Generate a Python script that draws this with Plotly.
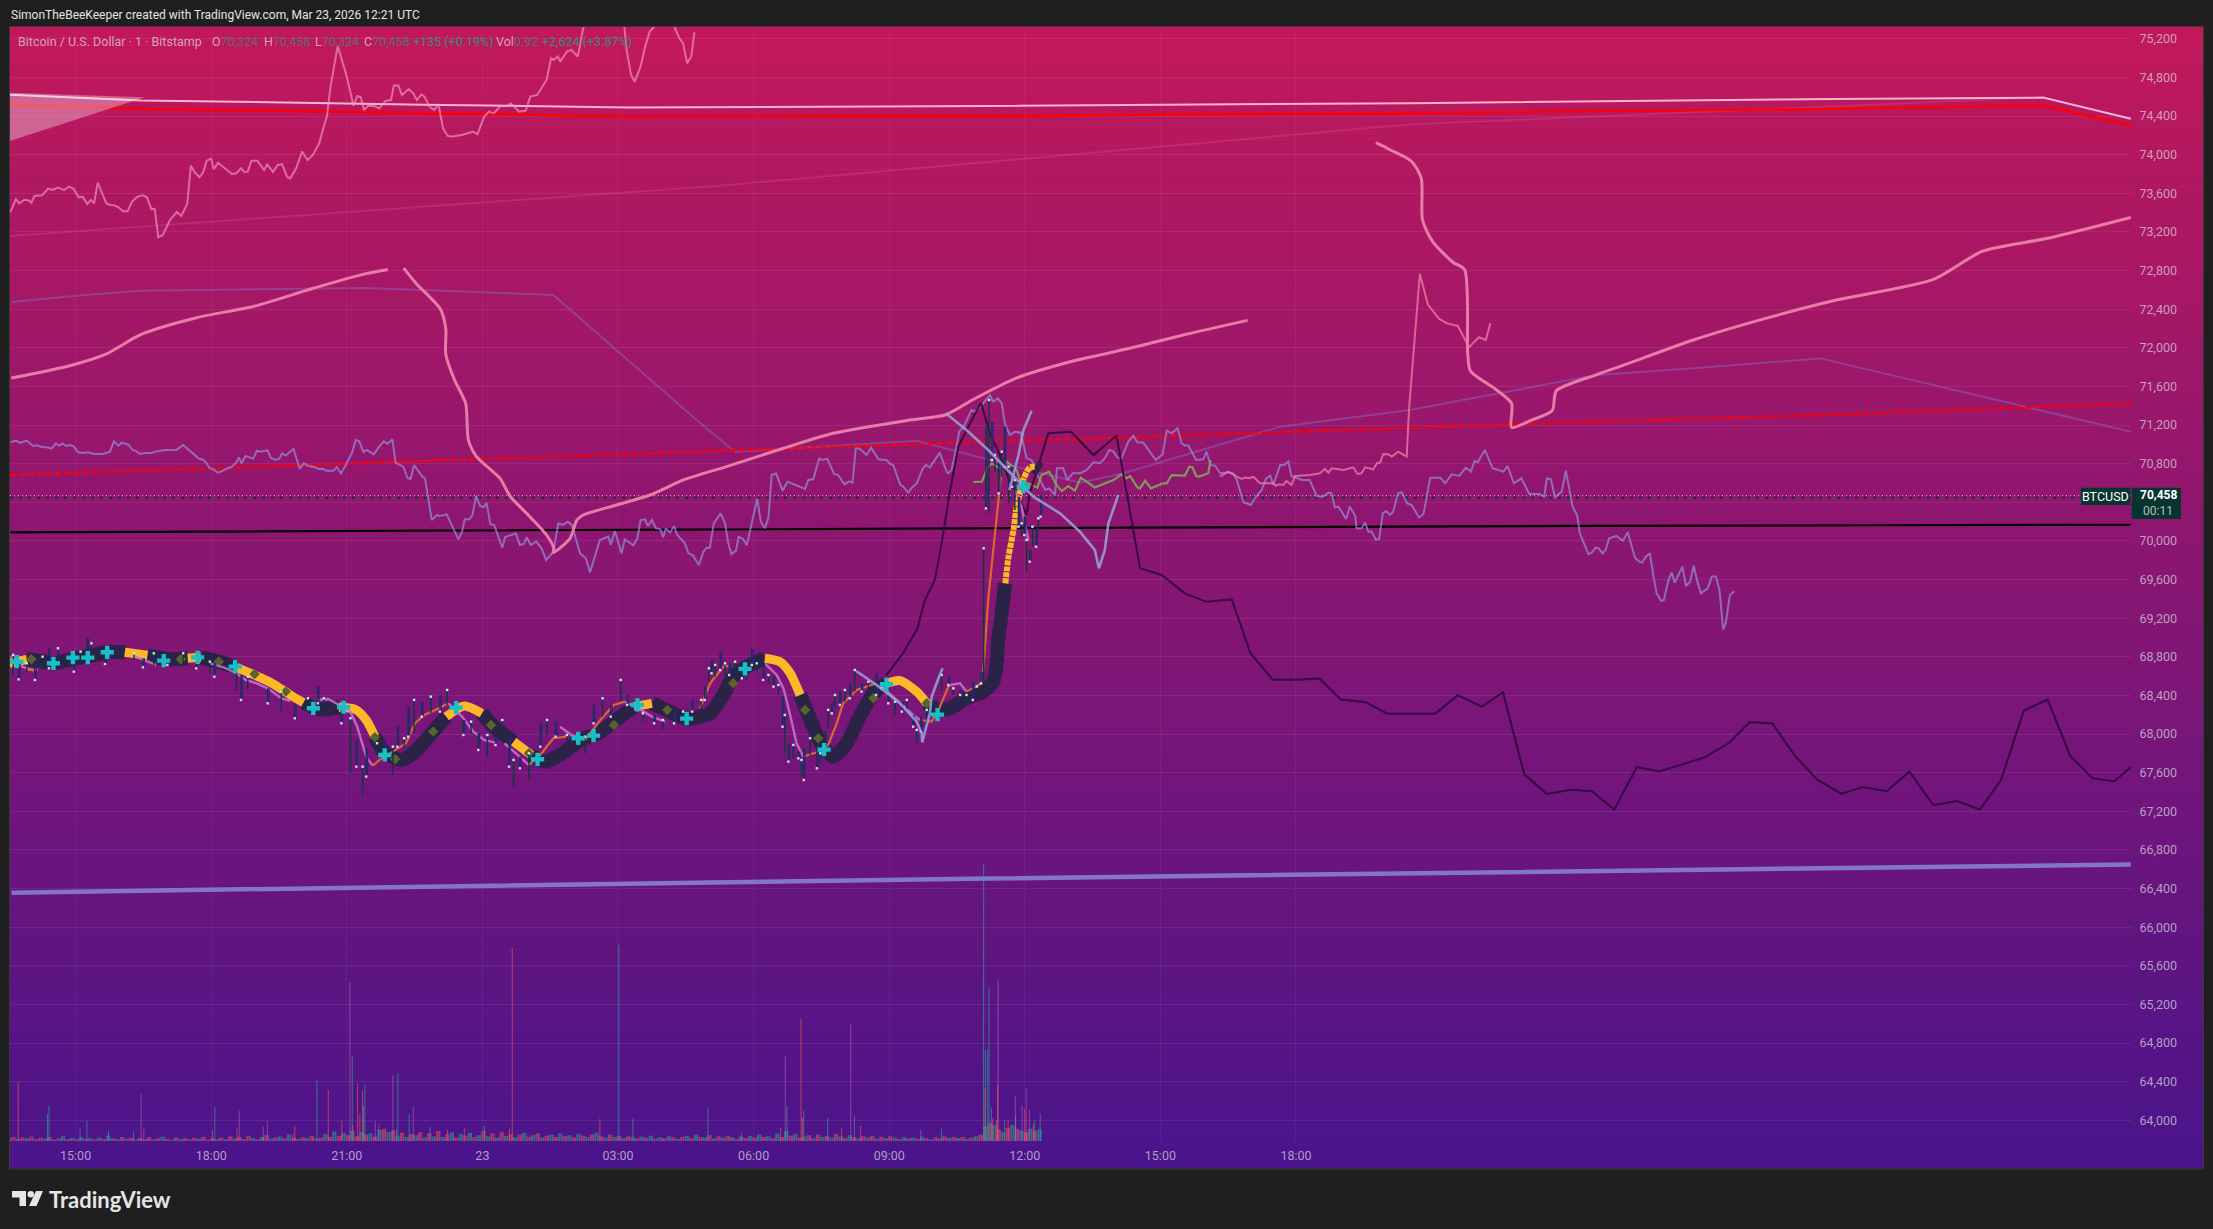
import pandas as pd
import plotly.graph_objects as go

# ---------------- values (hours since 2026-03-22 00:00, USD) ----------------
tick_hours = [15, 18, 21, 24, 27, 30, 33, 36, 39, 42]
tick_labels = ["15:00", "18:00", "21:00", "23", "03:00", "06:00", "09:00", "12:00", "15:00", "18:00"]
price_ticks = [64000,64400,64800,65200,65600,66000,66400,66800,67200,67600,68000,68400,68800,69200,69600,70000,70400,70800,71200,71600,72000,72400,72800,73200,73600,74000,74400,74800,75200]
price_labels = ["64,000","64,400","64,800","65,200","65,600","66,000","66,400","66,800","67,200","67,600","68,000","68,400","68,800","69,200","69,600","70,000","","70,800","71,200","71,600","72,000","72,400","72,800","73,200","73,600","74,000","74,400","74,800","75,200"]

overlay_h = [13.55,13.68,13.75,13.86,13.94,14.02,14.09,14.26,14.39,14.50,14.60,14.75,14.85,14.95,15.07,15.16,15.26,15.34,15.41,15.49,15.58,15.68,15.77,15.85,15.95,16.05,16.15,16.25,16.37,16.48,16.58,16.68,16.75,16.83,16.93,17.09,17.24,17.34,17.47,17.55,17.64,17.74,17.82,17.90,18.00,18.06,18.15,18.36,18.46,18.56,18.66,18.73,18.81,18.89,19.02,19.17,19.24,19.37,19.47,19.57,19.68,19.75,19.88,20.01,20.13,20.25,20.39,20.49,20.56,20.64,20.80,21.00,21.15,21.23,21.31,21.38,21.47,21.61,21.72,21.86,21.98,22.04,22.14,22.22,22.37,22.47,22.55,22.65,22.72,22.83,22.93,23.03,23.13,23.23,23.33,23.54,23.69,23.79,23.89,24.04,24.15,24.25,24.40,24.55,24.63,24.81,24.96,25.06,25.21,25.42,25.52,25.57,25.67,25.72,25.87,25.97,26.11,26.23,26.43,26.84,27.09,27.14,27.19,27.29,27.37,27.50,27.60,27.70,27.80,28.00,28.21,28.26,28.36,28.44,28.53,28.62,28.69]
overlay_p = [73401,73539,73497,73532,73532,73504,73573,73580,73649,73635,73660,73635,73670,73649,73559,73566,73490,73532,73497,73711,73608,73497,73480,73477,73456,73414,73414,73515,73566,73580,73559,73435,73442,73145,73169,73325,73407,73366,73490,73887,73815,73767,73815,73939,73960,73849,73918,73842,73801,73808,73860,73822,73825,73939,73939,73842,73898,73822,73894,73901,73773,73756,73860,74032,73946,73998,74119,74291,74395,74705,75127,74809,74505,74609,74595,74464,74505,74505,74481,74560,74567,74716,74716,74619,74681,74636,74567,74626,74602,74498,74464,74516,74274,74195,74188,74205,74222,74239,74212,74395,74447,74429,74505,74505,74533,74447,74457,74602,74619,74774,74999,74982,75016,74964,75068,75085,75016,75310,75500,75600,75400,75327,75085,74826,74757,74913,75120,75275,75327,75500,75400,75310,75206,75154,74947,75016,75268]

series_h = [13.56,13.68,13.77,13.92,14.06,14.15,14.25,14.36,14.47,14.56,14.64,14.71,14.80,14.88,14.96,15.06,15.17,15.28,15.39,15.61,15.76,15.85,15.95,16.02,16.17,16.26,16.35,16.42,16.57,16.68,16.79,16.98,17.24,17.38,17.72,17.83,17.90,17.96,18.05,18.14,18.23,18.34,18.45,18.55,18.61,18.67,18.76,18.93,19.01,19.08,19.25,19.32,19.41,19.51,19.57,19.65,19.82,19.96,20.05,20.15,20.30,20.37,20.47,20.54,20.70,20.78,20.87,20.96,21.11,21.20,21.27,21.37,21.44,21.55,21.60,21.70,21.82,21.90,22.01,22.08,22.25,22.34,22.41,22.49,22.66,22.73,22.88,22.99,23.06,23.21,23.47,23.55,23.61,23.71,23.78,23.86,23.95,24.03,24.09,24.18,24.26,24.44,24.50,24.74,24.83,
            24.92,24.98,25.07,25.19,25.31,25.41,25.57,25.68,25.78,25.89,25.98,26.05,26.16,26.29,26.38,26.60,26.79,26.84,26.93,27.08,27.15,27.34,27.43,27.50,27.60,27.66,27.75,27.84,27.94,28.00,28.06,28.15,28.24,28.31,28.48,28.56,28.65,28.79,28.89,28.96,29.03,29.12,29.27,29.37,29.44,29.51,29.61,29.67,29.77,29.85,30.08,30.16,30.25,30.33,30.40,30.50,30.64,30.75,31.14,31.21,31.32,31.45,31.53,31.63,31.78,31.87,32.01,32.11,32.19,32.26,32.35,32.50,32.60,32.76,32.94,33.02,33.09,33.24,33.31,33.42,33.50,33.61,33.74,33.81,33.90,34.12,34.27,34.31,34.38,34.46,34.55,34.65,
            34.82,34.90,35.05,35.23,35.30,35.41,35.49,35.56,35.67,35.78,35.91,36.04,36.15,36.30,36.45,36.54,36.67,36.71,36.85,
            36.94,37.06,37.22,37.37,37.52,37.66,37.77,37.87,37.96,38.05,38.14,38.29,38.40,38.49,38.62,38.73,38.90,39.05,39.14,39.25,39.38,39.47,39.54,39.62,39.79,39.95,40.02,40.11,40.21,40.32,40.50,40.61,40.69,40.84,41.00,41.09,41.24,41.34,41.43,41.50,41.65,41.74,41.83,41.90,42.13,42.30,42.46,42.60,42.72,42.79,42.86,42.94,43.11,43.19,43.31,43.34,43.45,43.53,43.60,43.67,43.77,43.84,43.92,43.99,44.08,44.15,44.26,44.34,44.46,44.56,44.72,44.82,44.97,45.19,45.30,45.45,45.61,45.76,45.87,45.95,46.02,46.18,46.35,46.59,46.68,46.82,46.99,47.16,47.40,47.49,47.55,47.64,47.73,47.88,47.97,48.12,48.17,48.22,48.28,48.47,48.54,48.63,48.70,48.78,48.85,48.93,49.09,49.23,49.34,49.50,49.60,49.66,49.74,49.83,49.91,49.98,50.08,50.14,50.24,50.31,50.38,50.55,50.63,50.72,50.80,50.88,50.96,51.11,51.20,51.29,51.37,51.45,51.51,51.60,51.70]
series_p = [71022,71039,71015,71039,70984,70991,70973,70970,70956,71008,70987,71011,70984,70994,70977,70918,70911,70918,70901,70901,70925,71032,70987,71018,70998,70942,70928,70904,70911,70911,70928,70942,70946,70994,70856,70839,70804,70756,70742,70708,70721,70749,70766,70811,70866,70804,70880,70853,70935,70925,70939,70859,70842,70853,70908,70884,70956,70746,70804,70777,70763,70746,70749,70728,70728,70766,70701,70770,70908,71046,71036,70922,70942,70908,70897,70966,71032,71008,71053,70811,70770,70656,70639,70787,70673,70649,70217,70269,70259,70276,70017,70093,70224,70224,70269,70466,70362,70349,70397,70172,70166,69931,70038,70079,69958,
            69969,70038,69958,69993,69924,69803,69889,70183,70166,70200,70166,70045,69872,69820,69675,70010,70045,69958,70103,69872,70017,69955,70028,70217,70224,70155,70217,70131,70121,70038,70131,70086,70155,70062,69976,69872,69855,69751,69889,69931,69931,70183,70286,70183,69976,69865,69900,70045,70021,69955,70438,70200,70131,70245,70683,70701,70521,70614,70538,70632,70639,70853,70839,70853,70694,70683,70587,70618,70604,70960,70956,70891,70966,70846,70839,70797,70787,70587,70563,70500,70552,70597,70746,70787,70763,70915,70718,70701,70735,70908,71132,71184,
            71356,71339,71408,71512,71443,71477,71425,71218,71097,71132,71122,70856,70839,70666,70528,70545,70476,70752,70752,
            70632,70701,70701,70736,70815,70805,70856,70943,70926,70863,70856,71029,71091,71022,71019,70943,70839,70898,71143,71115,71167,71012,70988,70988,70839,70846,70925,70787,70781,70701,70711,70701,70632,70401,70373,70442,70529,70649,70677,70580,70787,70787,70822,70673,70632,70632,70466,70459,70501,70494,70346,70356,70228,70356,70259,70132,70132,70190,70097,70097,70011,70021,70287,70311,70270,70304,70494,70504,70390,70373,70242,70277,70656,70656,70598,70691,70674,70760,70718,70829,70815,70943,70753,70718,70777,70598,70649,70487,70487,70453,70649,70639,70453,70511,70729,70356,70304,70269,70079,69865,69879,69931,69924,69872,69907,70028,70052,70003,70090,69827,69786,69776,69838,69872,69631,69458,69379,69389,69596,69672,69569,69734,69534,69579,69745,69579,69458,69510,69631,69631,69493,69085,69154,69441,69479]

dark_h = [32.93,33.31,33.62,33.79,34.01,34.16,34.35,34.53,34.79,35.03,35.23,35.45,35.64,35.82,36.04,36.11,36.52,37.02,37.52,38.03,38.55,39.03,39.54,40.02,40.58,40.99,41.49,42.05,42.52,42.99,43.55,44.02,45.08,45.58,46.11,46.58,47.05,47.55,48.08,48.55,49.04,49.54,50.04,51.04,51.57,52.04,52.54,53.04,53.54,54.07,54.54,55.07,55.57,56.10,56.63,57.13,57.60,58.10,58.63,59.13,59.63,60.10,60.47]
dark_p = [68606,68840,69088,69389,69596,69975,70528,70977,71218,71432,71115,70890,70649,70493,70269,70493,71115,71132,70890,71091,69717,69648,69458,69370,69395,68840,68562,68562,68577,68358,68329,68212,68212,68402,68285,68431,67584,67380,67424,67409,67219,67657,67613,67759,67905,68124,68110,67774,67526,67380,67453,67409,67613,67263,67307,67219,67526,68241,68358,67774,67541,67511,67657]

ma_a_h = [13.58,14.89,15.67,16.45,17.70,18.95,20.19,21.29,21.91]
ma_a_p = [71687,71818,71935,72139,72315,72431,72607,72753,72811]
ma_b_h = [22.26,22.54,23.07,23.19,23.19,23.38,23.63,23.69,23.87,24.39,24.61,25.05,25.42,25.58,25.57,25.94,26.09,26.23,26.97,27.71,28.45,29.40,30.66,31.76,33.46,34.25,34.87,35.81,37.05,38.30,39.55,40.93]
ma_b_p = [72826,72665,72402,72198,71935,71672,71424,71046,70873,70649,70466,70252,70062,69924,69879,70028,70217,70269,70373,70476,70632,70770,70960,71115,71253,71307,71468,71687,71862,71993,72139,72285]
ma_c_h = [43.77,44.08,44.55,44.77,44.80,45.02,45.48,45.73,45.80,45.86,46.42,46.77,46.77,47.20,47.67,47.76,48.61,49.23,50.79,52.35,53.91,56.10,57.19,58.60,60.47]
ma_c_p = [74125,74052,73935,73760,73322,73103,72884,72811,71935,71760,71570,71424,71176,71249,71351,71555,71716,71818,72081,72300,72490,72709,73001,73132,73351]

spike_h = [40.32,40.50,40.69,40.80,40.87,40.95,41.06,41.20,41.50,41.56,41.61,41.72,41.79,41.90,41.98,42.31,42.53,42.64,42.72,42.79,43.05,43.27,43.36,43.45,43.53,43.71,43.79,43.86,43.93,44.04,44.12,44.26,44.45,44.50,44.74,44.92,45.17,45.33,45.58,45.83,46.05,46.20,46.30]
spike_p = [70667,70718,70667,70642,70656,70649,70663,70598,70598,70570,70587,70580,70622,70580,70673,70684,70701,70746,70708,70753,70736,70763,70694,70701,70763,70743,70805,70812,70901,70898,70874,70925,70874,71357,72767,72446,72300,72256,72227,72008,72110,72081,72256]

green_h = [34.86,35.05,35.17,35.27,35.45,35.61,35.82,35.91,36.08,36.28,36.37,36.54,36.70,36.82,36.96,37.11,37.24,37.55,37.96,38.14,38.25,38.33,38.49,38.55,38.66,38.79,39.06,39.14,39.25,39.54,39.64,39.71,39.79,39.86,40.06,40.11]
green_p = [70611,70614,70752,70804,70752,70821,70735,70604,70597,70552,70683,70718,70580,70517,70569,70521,70656,70555,70631,70690,70649,70673,70555,70545,70624,70545,70597,70597,70683,70677,70770,70763,70673,70667,70701,70839]

swing_a_h = [32.27,32.72,33.24,33.61,33.72,33.73,33.90,33.94,34.09,34.18]
swing_a_p = [68654,68509,68319,68129,68008,67915,68215,68388,68578,68681]
swing_b_h = [34.25,34.71,35.19,35.75,36.19,36.78,37.22,37.55,37.64,37.77,37.85,38.07]
swing_b_p = [71322,71149,70942,70666,70459,70286,70096,69906,69717,69906,70183,70476]
swing_c_h = [35.66,35.75,35.86,35.97,36.15]
swing_c_p = [70528,70683,70890,71149,71349]

faint_h = [13.58,15.20,16.45,18.63,21.44,25.57,28.74,29.59,32.21,33.61,35.08,37.22,38.18,41.65,44.52,48.61,50.79,53.60,60.47]
faint_p = [72475,72548,72592,72607,72621,72548,71253,70922,70994,71039,70856,70604,70701,71184,71357,71716,71789,71891,71132]
rise_h = [13.55,29.26,44.55,58.30]
rise_p = [73159,73680,74315,74590]

long_h = [13.55,16.45,22.69,27.22,35.18,44.55,53.91,58.53,60.47]
pale_p = [74621,74563,74519,74490,74505,74534,74578,74592,74373]
red_p = [74519,74475,74432,74395,74402,74432,74475,74512,74300]
dash_h = [13.56,24.39,35.89,36.78,48.28,53.91,60.47]
dash_p = [70683,70856,71039,71046,71233,71307,71424]
black_h = [13.56,24.83,36.78,48.28,60.47]
black_p = [70090,70110,70135,70156,70168]
base_h = [13.58,35.18,60.47]
base_p = [66358,66504,66650]
wedge_h = [13.55,13.55,16.53,13.55]
wedge_p = [74643,74143,74595,74643]

band_h = [13.54,13.92,14.31,14.51,14.91,15.30,15.70,16.09,16.59,17.08,17.48,17.77,18.17,18.56,18.96,19.35,19.75,20.04,20.39,20.83,21.18,21.43,21.62,21.82,22.22,22.51,22.91,23.20,23.60,23.99,24.29,24.69,25.08,25.38,25.77,26.17,26.56,26.96,27.35,27.75,28.14,28.54,28.81,29.04,29.33,29.55,29.85,30.25,30.58,30.81,31.03,31.17,31.32,31.51,31.76,32.06,32.35,32.65,32.94,33.24,33.61,33.83,34.05,34.35,34.71,35.08,35.30,35.38,35.41,35.47,35.54,35.57,35.64,35.75,35.82,35.91,35.98,36.11,36.22,36.34]
band_p = [68733,68775,68750,68733,68775,68809,68847,68847,68816,68775,68785,68795,68750,68692,68612,68526,68405,68326,68257,68278,68257,68146,67974,67818,67732,67818,68026,68181,68291,68215,68060,67922,67784,67715,67801,67939,68008,68146,68284,68319,68233,68153,68181,68215,68405,68595,68699,68785,68750,68630,68405,68250,68077,67887,67767,67905,68181,68423,68526,68554,68440,68319,68250,68267,68371,68440,68543,68733,68975,69182,69458,69561,69837,70114,70355,70528,70649,70763,70769,70735]
dark_runs = [(1,7),(8,10),(11,13),(17,19),(22,27),(29,31),(32,38),(39,47),(50,58),(61,71),(78,79)]
gold_runs = [(0,1),(7,8),(10,11),(13,17),(19,22),(27,29),(31,32),(38,39),(47,50),(58,61)]
gold_tail = (71,78)

fall_segments = [
    ([13.57,13.82,14.07],[68809,68699,68657]),
    ([16.29,16.59,16.78],[68809,68750,68716]),
    ([17.97,18.27,18.56,18.76,19.01,19.25,19.55,19.75],[68733,68692,68630,68561,68526,68474,68371,68343]),
    ([20.34,20.59,20.83,21.08,21.23,21.43,21.57],[68353,68364,68302,68233,68077,67767,67673]),
    ([23.25,23.55,23.80,24.04,24.29],[68319,68181,68026,67939,67912]),
    ([24.49,24.83,25.03],[67905,67767,67680]),
    ([25.72,25.97,26.27],[68077,67991,67939]),
    ([27.15,27.45,27.75,28.04],[68336,68267,68181,68129]),
    ([30.25,30.51,30.66,30.80,30.95,31.10],[68733,68612,68474,68215,67905,67767]),
    ([32.80,33.17,33.53,33.68],[68509,68354,68198,68146]),
    ([34.35,34.57,34.71],[68509,68526,68440]),
    ([35.78,35.93,36.0,36.08],[70528,70355,70183,70010]),
]
rise_segments = [
    ([13.90,14.17],[68664,68671]),
    ([21.57,21.77,22.02,22.31,22.51,22.71,22.96,23.25],[67673,67749,67818,67905,68112,68198,68250,68319]),
    ([25.03,25.28,25.57,25.87],[67680,67784,67957,67974]),
    ([26.27,26.61,26.91,27.15],[67939,68146,68302,68336]),
    ([28.81,29.04,29.33,29.48],[68267,68526,68699,68709]),
    ([31.10,31.43,31.65,31.84,31.98,32.28,32.72],[67767,67818,67887,68112,68319,68457,68526]),
    ([33.68,33.94,34.09,34.31,34.35],[68146,68129,68250,68492,68509]),
    ([34.71,35.05,35.10,35.17,35.19,35.41,35.49],[68440,68526,68768,69182,69389,70390,70735]),
]

cross_h = [13.70,14.51,14.94,15.27,15.70,16.95,17.70,18.53,20.26,20.93,21.84,23.42,25.22,26.12,26.46,27.43,28.52,29.81,31.56,32.94,34.07,35.97]
cross_p = [68750,68733,68792,68792,68847,68761,68795,68699,68267,68278,67784,68274,67739,67957,67984,68302,68160,68675,67839,68516,68202,70562]
olive_h = [14.02,17.33,18.17,18.96,19.65,21.62,22.07,22.91,24.19,25.03,26.91,28.09,29.55,31.14,31.43,32.65,33.83]
olive_p = [68775,68775,68750,68623,68440,67967,67739,68026,68095,67801,68095,68250,68526,68250,67956,68371,68319]

candle_h = [13.62,13.74,13.92,14.10,14.27,14.41,14.61,14.96,15.11,15.26,15.35,15.65,16.29,16.49,16.73,17.03,17.38,17.67,17.97,18.07,18.56,18.66,18.81,19.25,19.55,19.85,20.14,20.36,20.49,20.88,21.08,21.21,21.35,21.43,21.67,21.82,22.02,22.12,22.27,22.36,22.49,22.66,22.86,23.06,23.22,23.58,23.75,23.91,24.11,24.29,24.44,24.59,24.69,24.83,25.03,25.28,25.43,25.62,25.87,26.12,26.27,26.46,26.66,26.84,27.06,27.20,27.55,27.80,27.99,28.24,28.44,28.64,
            28.84,28.92,29.01,29.07,29.15,29.26,29.37,29.46,29.59,29.74,29.85,29.96,30.07,30.21,30.33,30.44,30.55,30.64,30.69,30.77,30.88,30.99,31.06,31.11,31.25,31.40,31.48,31.58,31.65,31.73,31.80,31.91,32.02,32.13,32.24,32.39,32.54,32.71,32.83,32.98,33.13,33.28,33.39,33.53,33.61,33.70,33.83,34.05,34.16,34.31,34.42,34.57,34.71,34.85,34.94,35.03,35.09,
            35.14,35.21,35.27,35.34,35.42,35.49,35.55,35.64,35.72,35.78,35.86,35.93,35.99,36.04,36.11,36.17,36.25,36.30,36.35]
candle_hi = [68820,68768,68733,68750,68802,68889,68889,68802,68854,68992,68940,68854,68837,68785,68837,68820,68837,68750,68750,68733,68699,68612,68595,68474,68440,68302,68371,68492,68371,68284,68164,67939,67663,67853,67905,67957,67870,68077,67957,68284,68354,68336,68388,68405,68457,68146,68129,68008,67991,67957,68146,67974,67732,67767,67801,68112,68146,68129,67991,68008,67974,68302,68371,68302,68561,68405,68215,68198,68146,68250,68233,68354,
             68354,68492,68681,68775,68716,68847,68733,68733,68750,68681,68664,68878,68733,68733,68612,68595,68509,68388,68198,67905,67887,67818,67732,67853,67957,67905,67801,68032,68250,68319,68405,68440,68457,68526,68664,68526,68543,68630,68474,68405,68336,68336,68354,68198,68043,68181,68250,68354,68612,68595,68474,68457,68405,68543,68492,68647,69924,
             71184,71460,71235,70890,70821,70925,71184,70769,70769,70631,70459,70183,70252,70010,69906,70148,70131,70234,70476]
candle_lo = [68612,68567,68647,68561,68664,68681,68750,68647,68750,68768,68820,68726,68768,68692,68716,68716,68733,68681,68630,68595,68457,68354,68457,68319,68233,68164,68215,68319,68284,68112,67594,67663,67370,67560,67801,67767,67577,67870,67853,67974,68008,68181,68215,68233,68302,67991,68008,67836,67767,67887,67991,67663,67456,67646,67542,67870,67991,67974,67922,67905,67801,68112,68181,68181,68354,68302,68129,68112,68050,68112,68146,68233,
             68250,68354,68543,68630,68595,68664,68595,68612,68612,68578,68561,68716,68647,68561,68526,68492,68405,68077,67801,67715,67749,67749,67560,67525,67767,67646,67698,67870,68077,68215,68284,68302,68336,68371,68440,68440,68388,68405,68405,68319,68198,68233,68215,68077,67905,68026,68077,68198,68440,68509,68405,68405,68319,68354,68440,68526,68526,
             70338,70286,70839,70718,70493,70666,70769,70390,70562,70321,70148,70045,70062,69682,69786,69941,69941,70114,70252]

vol_small = [.10,.14,.07,.12,.09,.15,.06,.11,.08,.13,
             .05,.09,.16,.07,.11,.06,.13,.08,.10,.05,
             .12,.07,.18,.09,.06,.14,.08,.11,.05,.10,
             .07,.13,.06,.09,.15,.08,.05,.12,.07,.10,
             .06,.11,.08,.14,.05,.09,.07,.12,.06,.16,
             .09,.13,.07,.18,.10,.06,.14,.20,.08,.12,
             .15,.09,.22,.11,.07,.13,.10,.17,.08,.12,
             .24,.14,.32,.18,.28,.20,.35,.16,.30,.22,
             .26,.15,.38,.42,.30,.36,.18,.28,.14,.24,
             .20,.30,.12,.26,.16,.34,.14,.22,.30,.12,
             .24,.18,.28,.14,.20,.34,.16,.26,.12,.30,
             .18,.24,.13,.22,.28,.15,.20,.26,.12,.18,
             .22,.14,.26,.16,.20,.12,.24,.18,.14,.22,
             .28,.16,.12,.22,.14,.18,.10,.16,.13,.09,
             .15,.11,.18,.08,.13,.10,.16,.12,.07,.14,
             .18,.10,.22,.14,.12,.20,.09,.16,.11,.18,
             .13,.08,.15,.10,.18,.12,.22,.14,.16,.10,
             .26,.14,.34,.18,.24,.12,.16,.20,.10,.22,
             .14,.18,.12,.24,.16,.10,.20,.13,.09,.16,
             .12,.18,.08,.14,.10,.16,.11,.07,.13,.09,
             .12,.08,.15,.10,.06,.13,.09,.16,.11,.14,
             .10,.14,.08,.12,.16,.22,.50,.62,.55,.40,
             .30,.45,.55,.42,.36,.30,.42,.35,.40]
vol_small_start = 13.55
vol_small_step = 0.1

vol_green_h = [14.41,14.38,15.10,15.25,15.73,16.28,18.08,20.34,21.12,21.37,21.40,22.13,22.10,22.38,22.84,24.04,27.02,27.33,28.99,30.74,31.11,31.64,32.23,34.16,35.09,35.13,35.18,35.21,35.26,35.55,35.80,36.22,36.34]
vol_green_v = [1.21,.93,.42,.68,.36,.31,1.16,2.06,2.91,1.18,1.93,2.31,.40,.91,.48,.53,6.68,.76,1.13,1.18,1.02,.79,.87,.41,9.42,3.10,3.13,5.21,1.13,.70,.87,.70,.93]
vol_red_h = [13.73,16.51,18.03,18.57,19.81,19.85,20.59,20.89,21.13,21.24,21.29,21.35,23.23,23.60,24.60,24.66,26.60,29.73,30.60,31.05,31.08,31.95,32.37,35.12,35.40,35.29,35.37,35.63,36.00,36.19]
vol_red_v = [2.01,.41,.36,.42,.25,.50,1.74,.68,.53,1.97,.93,1.72,.39,.43,.42,6.56,.76,.28,.45,4.17,.79,.45,.53,1.78,1.93,.76,.70,.72,1.10,.59]
vol_faint_h = [16.45,18.62,19.15,19.24,21.07,21.63,21.71,22.02,22.47,30.70,32.15,33.70,35.41,35.79,35.94,36.03,36.10]
vol_faint_v = [1.59,1.02,.50,.68,5.40,.68,.57,2.23,1.18,2.88,3.97,.39,5.48,1.55,1.21,1.78,1.07]

# ---------------- geometry of the frame (image pixels) ----------------
W, H = 2213, 1229
L, R, T, B = 10, 2131, 27, 1141
X_RANGE_H = (13.549, 60.474)
Y_RANGE = (63786, 75323)
VOL_MAX = 37.9
FONT = "Roboto"
AXIS_TEXT = "rgba(216,214,222,0.72)"


def px(x):
    return (x - L) / (R - L)


def py(y):
    return (B - y) / (B - T)


def when(hours):
    base = pd.Timestamp("2026-03-22")
    out = []
    for h in hours:
        out.append(None if h is None else (base + pd.Timedelta(hours=float(h))).strftime("%Y-%m-%d %H:%M:%S"))
    return out


def runs(xs, ys, spans):
    ox, oy = [], []
    for a, b in spans:
        ox += list(xs[a:b + 1]) + [None]
        oy += list(ys[a:b + 1]) + [None]
    return ox, oy


def joined(segments):
    ox, oy = [], []
    for a, b in segments:
        ox += list(a) + [None]
        oy += list(b) + [None]
    return ox, oy


def add_line(fig, hours, prices, color, width, dash=None, shape=None, **kw):
    line = dict(color=color, width=width, dash=dash, shape=shape)
    if shape == "spline":
        line["smoothing"] = 0.7
    fig.add_trace(go.Scatter(x=when(hours), y=prices, mode="lines", hoverinfo="skip", showlegend=False,
                             connectgaps=False, line=line, **kw))


def add_bars(fig, hours, values, color, width_ms):
    fig.add_trace(go.Bar(x=when(hours), y=values, width=width_ms, yaxis="y2", hoverinfo="skip", showlegend=False,
                         marker=dict(color=color, line=dict(width=0))))


fig = go.Figure()

GREEN_BAR, RED_BAR = "rgba(38,166,154,0.62)", "rgba(239,83,80,0.62)"
small_h = [vol_small_start + vol_small_step * i for i in range(len(vol_small))]
add_bars(fig, small_h[::2], vol_small[::2], GREEN_BAR, 150000)
add_bars(fig, small_h[1::2], vol_small[1::2], RED_BAR, 150000)
add_bars(fig, [h + 0.05 for h in small_h[::2]], vol_small[1::2], RED_BAR, 150000)
add_bars(fig, [h + 0.05 for h in small_h[1::2]], vol_small[2::2], GREEN_BAR, 150000)
add_bars(fig, vol_green_h, vol_green_v, "rgba(38,166,154,0.75)", 72000)
add_bars(fig, vol_red_h, vol_red_v, "rgba(239,83,80,0.75)", 72000)
add_bars(fig, vol_faint_h, vol_faint_v, "rgba(225,120,190,0.5)", 72000)

# long levels
add_line(fig, rise_h, rise_p, "rgba(255,190,215,0.12)", 2)
add_line(fig, faint_h, faint_p, "rgba(135,110,200,0.45)", 2)
add_line(fig, black_h, black_p, "#000000", 2.2)
add_line(fig, base_h, base_p, "#8175CC", 4.5)
add_line(fig, long_h, red_p, "#FF0000", 2.4)
add_line(fig, long_h, pale_p, "#F8B4CE", 2)
add_line(fig, dash_h, dash_p, "#FF0000", 2.4, dash="6px,3px")

fig.add_trace(go.Scatter(x=when(wedge_h), y=wedge_p, mode="lines", fill="toself", hoverinfo="skip", showlegend=False,
                         fillcolor="rgba(255,255,255,0.33)", line=dict(width=0)))

# last-price dotted rows
add_line(fig, X_RANGE_H, [70448, 70448], "#0B3B32", 2, dash="3px,6px")
add_line(fig, X_RANGE_H, [70470, 70470], "rgba(255,220,235,0.75)", 1, dash="1px,3px")

# thin price-like lines
add_line(fig, overlay_h, overlay_p, "rgba(246,160,195,0.62)", 2)
add_line(fig, series_h, series_p, "rgba(150,140,215,0.72)", 2)
add_line(fig, spike_h, spike_p, "rgba(243,130,170,0.72)", 2)
add_line(fig, green_h, green_p, "rgba(125,175,85,0.85)", 2.2)
add_line(fig, dark_h, dark_p, "rgba(45,8,60,0.88)", 2)

# thick moving averages
add_line(fig, ma_a_h, ma_a_p, "#E77DA6", 3, shape="spline")
add_line(fig, ma_b_h, ma_b_p, "#E77DA6", 3, shape="spline")
add_line(fig, ma_c_h, ma_c_p, "#E77DA6", 3, shape="spline")

# band
x, y = runs(band_h, band_p, dark_runs)
add_line(fig, x, y, "#2A2347", 14, shape="spline")
x, y = runs(band_h, band_p, gold_runs)
add_line(fig, x, y, "#FDB827", 9, shape="spline")
x, y = runs(band_h, band_p, [gold_tail])
add_line(fig, x, y, "#FDB827", 6, dash="5px,1px", shape="spline")
fig.add_trace(go.Scatter(x=when(olive_h), y=olive_p, mode="markers", hoverinfo="skip", showlegend=False,
                         marker=dict(symbol="diamond", size=8, color="#5A632C", line=dict(width=0))))

# fast ribbon
x, y = joined(fall_segments)
add_line(fig, x, y, "rgba(198,120,205,0.85)", 2.4)
x, y = joined(rise_segments)
add_line(fig, x, y, "rgba(222,112,40,0.92)", 2.2)

# one-minute candles: wick rows, then bright body ticks at their ends
wick_x, wick_y = [], []
for h, hi, lo in zip(candle_h, candle_hi, candle_lo):
    wick_x += [h, h, None]
    wick_y += [hi, lo, None]
add_line(fig, wick_x, wick_y, "#0A3A3E", 1.4)
alt_x, alt_y = [], []
for h, hi, lo in zip(candle_h[1::2], candle_hi[1::2], candle_lo[1::2]):
    alt_x += [h + 0.03, h + 0.03, None]
    alt_y += [hi, lo, None]
add_line(fig, alt_x, alt_y, "#3A1C8F", 1.3)
fig.add_trace(go.Scatter(x=when(candle_h[::2]), y=candle_hi[::2], mode="markers", hoverinfo="skip", showlegend=False,
                         marker=dict(symbol="square", size=2.4, color="#B8F0F5", line=dict(width=0))))
fig.add_trace(go.Scatter(x=when(candle_h[1::2]), y=candle_lo[1::2], mode="markers", hoverinfo="skip", showlegend=False,
                         marker=dict(symbol="square", size=2.4, color="#F4C6E3", line=dict(width=0))))

# swing legs
add_line(fig, swing_a_h, swing_a_p, "rgba(150,165,220,0.85)", 2.6)
add_line(fig, swing_b_h, swing_b_p, "rgba(150,165,220,0.85)", 2.6)
add_line(fig, swing_c_h, swing_c_p, "rgba(150,165,220,0.85)", 2.6)

fig.add_trace(go.Scatter(x=when(cross_h), y=cross_p, mode="markers", hoverinfo="skip", showlegend=False,
                         marker=dict(symbol="cross", size=11, color="#17C0C8", line=dict(width=0))))

# ---------------- frame ----------------
TOP_RGB, BOT_RGB = (194, 24, 91), (74, 20, 140)
FRAME_TOP, FRAME_BOT, FRAME_R = 27, 1168.5, 2203
STEPS = 190
shapes = []
for i in range(STEPS):
    f = i / (STEPS - 1)
    c = tuple(round(a + (b - a) * f) for a, b in zip(TOP_RGB, BOT_RGB))
    y0 = FRAME_TOP + (FRAME_BOT - FRAME_TOP) * i / STEPS
    y1 = FRAME_TOP + (FRAME_BOT - FRAME_TOP) * (i + 1) / STEPS + 0.6
    shapes.append(dict(type="rect", xref="paper", yref="paper", layer="below", x0=px(L), x1=px(FRAME_R),
                       y0=py(y0), y1=py(min(y1, FRAME_BOT)), line=dict(width=0),
                       fillcolor=f"rgb({c[0]},{c[1]},{c[2]})"))
shapes.append(dict(type="rect", xref="paper", yref="paper", layer="below", x0=px(L - 0.5), x1=px(FRAME_R + 0.5),
                   y0=py(FRAME_BOT + 0.5), y1=py(FRAME_TOP - 0.5), line=dict(width=1, color="#3A3A3A")))
# price tags
shapes.append(dict(type="rect", xref="paper", yref="paper", x0=px(2081), x1=px(2130.5), y0=py(505), y1=py(487.7),
                   fillcolor="#05352E", line=dict(width=0)))
shapes.append(dict(type="rect", xref="paper", yref="paper", x0=px(2131.7), x1=px(2181), y0=py(519), y1=py(487.7),
                   fillcolor="#05352E", line=dict(width=0)))
# brand mark
LOGO = "#E6E6E6"
shapes.append(dict(type="path", xref="paper", yref="paper", fillcolor=LOGO, line=dict(width=0),
                   path=f"M {px(12)} {py(1191)} L {px(26)} {py(1191)} L {px(26)} {py(1206)} L {px(19.5)} {py(1206)} "
                        f"L {px(19.5)} {py(1197.5)} L {px(12)} {py(1197.5)} Z"))
shapes.append(dict(type="circle", xref="paper", yref="paper", fillcolor=LOGO, line=dict(width=0),
                   x0=px(27.5), x1=px(34), y0=py(1197.5), y1=py(1191)))
shapes.append(dict(type="path", xref="paper", yref="paper", fillcolor=LOGO, line=dict(width=0),
                   path=f"M {px(36)} {py(1191)} L {px(43)} {py(1191)} L {px(36.5)} {py(1206)} L {px(29)} {py(1206)} Z"))

annotations = []


def note(text, x, y, color, size=12.5, anchor="left", family=FONT):
    annotations.append(dict(text=text, xref="paper", yref="paper", x=px(x), y=py(y), xanchor=anchor, yanchor="middle",
                            showarrow=False, align="left", borderpad=0,
                            font=dict(family=family, size=size, color=color)))


note("SimonTheBeeKeeper created with TradingView.com, Mar 23, 2026 12:21 UTC", 10, 15, "#E4E4E4", 12)
LEG = "rgba(220,218,225,0.72)"
UP = "#2E8E83"
note("Bitcoin / U.S. Dollar · 1 · Bitstamp", 17, 42, LEG, 12.5)
for label, value, x in (("O", "70,324", 211), ("H", "70,458", 262.5), ("L", "70,324", 313.5), ("C", "70,458", 362.5)):
    note(f"{label}<span style='color:{UP}'>{value}</span>", x, 42, LEG, 12.5)
note("+135 (+0.19%)", 412, 42, UP, 12.5)
note(f"Vol<span style='color:{UP}'>0.92</span>", 495, 42, LEG, 12.5)
note("+2,624 (+3.87%)", 541, 42, UP, 12.5)
note("BTCUSD", 2105.7, 496.5, "#FFFFFF", 12.5, anchor="center")
note("<b>70,458</b>", 2158, 495, "#FFFFFF", 12, anchor="center")
note("00:11", 2158, 511, "rgba(225,225,225,0.8)", 12, anchor="center")
note("<b>TradingView</b>", 48, 1199, "#E6E6E6", 22, family="Lato")

fig.update_layout(
    width=W, height=H, autosize=False,
    margin=dict(l=L, r=W - R, t=T, b=H - B, pad=0),
    paper_bgcolor="#1F1F1F", plot_bgcolor="rgba(0,0,0,0)",
    font=dict(family=FONT, size=12.5, color=AXIS_TEXT),
    showlegend=False, barmode="overlay", hovermode=False, dragmode=False,
    shapes=shapes, annotations=annotations,
    xaxis=dict(type="date", range=when(X_RANGE_H), tickmode="array", tickvals=when(tick_hours), ticktext=tick_labels,
               showgrid=True, gridcolor="rgba(255,255,255,0.045)", gridwidth=1, zeroline=False, showline=False,
               ticks="outside", ticklen=3, tickcolor="rgba(0,0,0,0)", tickfont=dict(family=FONT, size=12.5, color=AXIS_TEXT),
               automargin=False, fixedrange=True),
    yaxis=dict(range=Y_RANGE, side="right", tickmode="array", tickvals=price_ticks, ticktext=price_labels,
               showgrid=True, gridcolor="rgba(255,255,255,0.075)", gridwidth=1, zeroline=False, showline=False,
               ticks="outside", ticklen=5, tickcolor="rgba(0,0,0,0)", tickfont=dict(family=FONT, size=12.5, color=AXIS_TEXT),
               automargin=False, fixedrange=True),
    yaxis2=dict(overlaying="y", range=[0, VOL_MAX], visible=False, fixedrange=True),
)

fig.write_html("out.html", config=dict(displayModeBar=False, responsive=False),
               post_script="document.body.style.margin='0';document.body.style.overflow='hidden';")
